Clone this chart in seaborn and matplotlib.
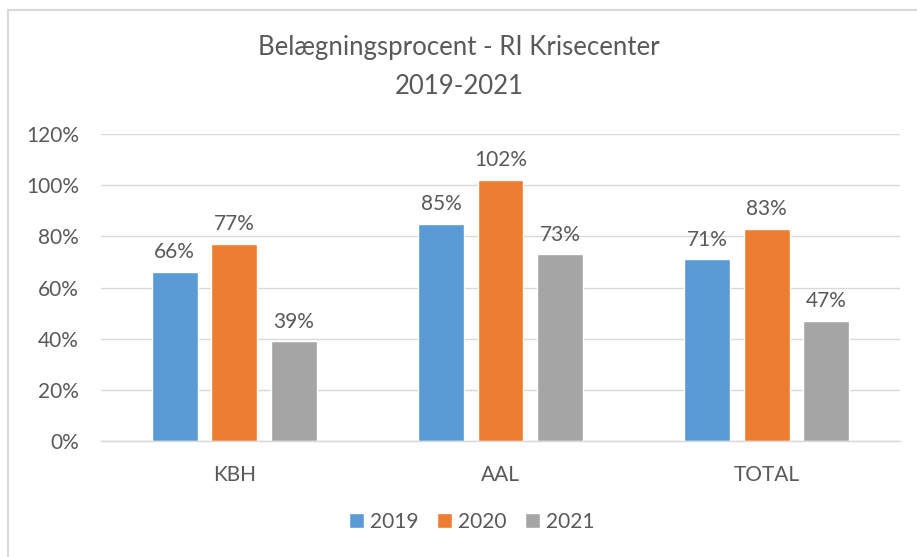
import matplotlib
matplotlib.use("Agg")
import matplotlib.pyplot as plt
import seaborn as sns
import pandas as pd
from matplotlib.patches import Rectangle
from matplotlib.ticker import PercentFormatter

# data
categories = ["KBH", "AAL", "TOTAL"]
years = ["2019", "2020", "2021"]
values_2019 = [0.66, 0.85, 0.71]
values_2020 = [0.77, 1.02, 0.83]
values_2021 = [0.39, 0.73, 0.47]
colors = ["#5b9bd5", "#ed7d31", "#a5a5a5"]

df = pd.DataFrame({
    "omraade": categories * 3,
    "aar": [y for y in years for _ in categories],
    "vaerdi": values_2019 + values_2020 + values_2021,
})

sns.set_theme(style="white")
plt.rcParams["font.family"] = ["Lato", "DejaVu Sans"]
txt = "#595959"

fig = plt.figure(figsize=(9.17, 5.57), dpi=100)
ax = fig.add_axes([101 / 917, 1 - 441 / 557, 799 / 917, 307 / 557])

sns.barplot(data=df, x="omraade", y="vaerdi", hue="aar", palette=colors,
            width=0.67, gap=0.23, saturation=1, ax=ax, legend=True)

for cont in ax.containers:
    ax.bar_label(cont, labels=[f"{v * 100:.0f}%" for v in cont.datavalues],
                 padding=7, fontsize=15, color=txt)

ax.set_ylim(0, 1.2)
ax.set_yticks([0, 0.2, 0.4, 0.6, 0.8, 1.0, 1.2])
ax.yaxis.set_major_formatter(PercentFormatter(1.0, decimals=0))
ax.grid(axis="y", color="#d9d9d9", linewidth=1)
ax.set_axisbelow(True)
for s in ["top", "right", "left"]:
    ax.spines[s].set_visible(False)
ax.spines["bottom"].set_color("#d9d9d9")
ax.spines["bottom"].set_linewidth(1)
ax.tick_params(axis="both", length=0, labelsize=15, colors=txt)
ax.tick_params(axis="y", pad=16)
ax.tick_params(axis="x", pad=17)
ax.set_xlabel("")
ax.set_ylabel("")

handles, labels = ax.get_legend_handles_labels()
ax.legend(handles, labels, loc="center", bbox_to_anchor=(472 / 917, 1 - 522 / 557),
          bbox_transform=fig.transFigure, ncol=3, frameon=False, fontsize=15,
          handlelength=0.7, handleheight=0.7, handletextpad=0.3, columnspacing=0.9,
          labelcolor=txt)

fig.text(459 / 917, 1 - 48 / 557, "Belægningsprocent - RI Krisecenter",
         ha="center", va="center", fontsize=18.5, color=txt)
fig.text(459 / 917, 1 - 86 / 557, "2019-2021",
         ha="center", va="center", fontsize=18.5, color=txt)

fig.patches.append(Rectangle((8 / 917, -0.05), 1.0, 1 - 10 / 557 + 0.05,
                             transform=fig.transFigure, fill=False,
                             edgecolor="#d9d9d9", linewidth=1.5, figure=fig))

fig.savefig("out.png", dpi=100)
